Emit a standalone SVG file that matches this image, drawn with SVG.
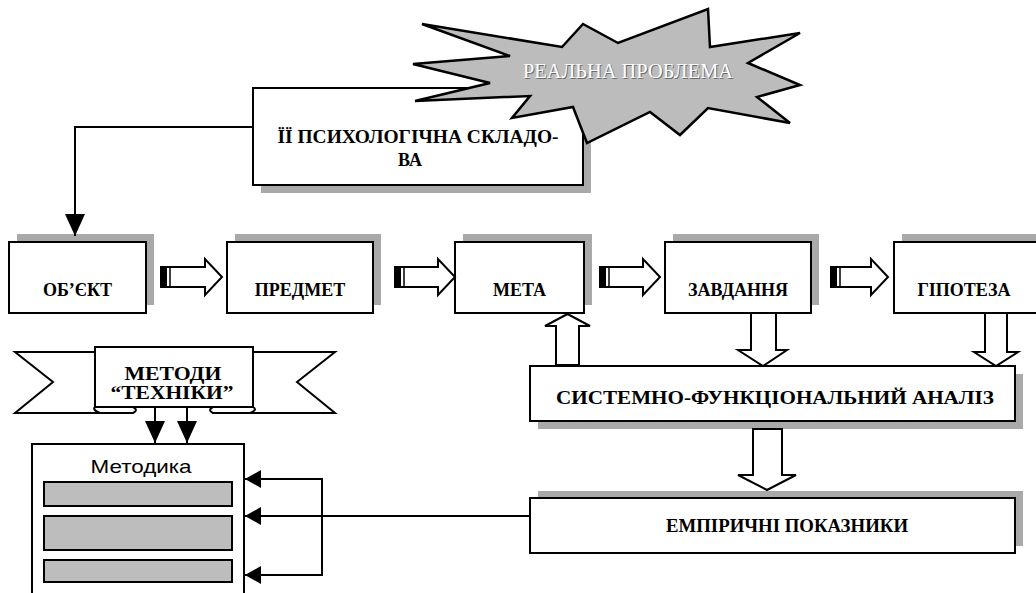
<svg xmlns="http://www.w3.org/2000/svg" width="1036" height="593" viewBox="0 0 1036 593">
<style>
.box{fill:#fff;stroke:#000;stroke-width:2}
.sh{fill:#a9a9a9}
.b{font-family:"Liberation Serif","Times New Roman",serif;font-weight:bold;font-size:18px;text-anchor:middle;fill:#000}
.blk{fill:#fff;stroke:#000;stroke-width:2;stroke-linejoin:miter}
.ln{fill:none;stroke:#000;stroke-width:2}
.bar{fill:#bdbdbd;stroke:#000;stroke-width:2}
.rp{font-family:"Liberation Serif","Times New Roman",serif;font-size:20px;text-anchor:middle}
</style>
<defs>
<marker id="tri" viewBox="0 0 22 20" refX="22" refY="10" markerWidth="22" markerHeight="20" markerUnits="userSpaceOnUse" orient="auto">
<path d="M0,0 L22,10 L0,20 Z" fill="#000"/>
</marker>
<marker id="tri2" viewBox="0 0 16 18" refX="16" refY="9" markerWidth="16" markerHeight="18" markerUnits="userSpaceOnUse" orient="auto">
<path d="M0,0 L16,9 L0,18 Z" fill="#000"/>
</marker>
</defs>

<g id="psych">
<rect class="sh" x="261" y="96" width="330" height="97"/>
<rect class="box" x="253" y="88" width="330" height="97"/>
<text class="b" x="418" y="143" textLength="281" lengthAdjust="spacingAndGlyphs">ЇЇ  ПСИХОЛОГІЧНА СКЛАДО-</text>
<text class="b" x="410" y="166">ВА</text>
</g>

<g id="problem">
<polygon points="422,24 562,47 583,24 618,43 708,9 710,47 800,33 748,63 800,85 757,97 790,123 708,108 680,135 650,112 587,143 573,107 512,118 530,96 415,101 490,83 413,64 510,56" fill="#bcbcbc" stroke="#000" stroke-width="2.5" stroke-linejoin="miter"/>
<text class="rp" x="629" y="79" textLength="210" lengthAdjust="spacingAndGlyphs" fill="#6a6a6a">РЕАЛЬНА ПРОБЛЕМА</text>
<text class="rp" x="628" y="78" textLength="210" lengthAdjust="spacingAndGlyphs" fill="#fff">РЕАЛЬНА ПРОБЛЕМА</text>
</g>

<g id="obiekt">
<rect class="sh" x="17" y="234" width="137" height="71"/>
<rect class="box" x="9" y="242" width="137" height="71"/>
<text class="b" x="77.5" y="296">ОБ’ЄКТ</text>
</g>
<g id="predmet">
<rect class="sh" x="235" y="234" width="146" height="71"/>
<rect class="box" x="227" y="242" width="146" height="71"/>
<text class="b" x="300" y="296">ПРЕДМЕТ</text>
</g>
<g id="meta">
<rect class="sh" x="463" y="234" width="129" height="71"/>
<rect class="box" x="455" y="242" width="129" height="71"/>
<text class="b" x="519.5" y="296">МЕТА</text>
</g>
<g id="zavdannia">
<rect class="sh" x="673" y="234" width="146" height="71"/>
<rect class="box" x="665" y="242" width="146" height="71"/>
<text class="b" x="738" y="296">ЗАВДАННЯ</text>
</g>
<g id="hipoteza">
<rect class="sh" x="902" y="234" width="145" height="71"/>
<rect class="box" x="894" y="242" width="145" height="71"/>
<text class="b" x="964" y="296">ГІПОТЕЗА</text>
</g>

<g id="sfa">
<rect class="sh" x="538" y="374" width="485" height="55"/>
<rect class="box" x="530" y="366" width="485" height="55"/>
<text class="b" x="775" y="404" textLength="438" lengthAdjust="spacingAndGlyphs">СИСТЕМНО-ФУНКЦІОНАЛЬНИЙ АНАЛІЗ</text>
</g>

<g id="empirychni">
<rect class="sh" x="538" y="491" width="485" height="55"/>
<rect class="box" x="530" y="498" width="485" height="55"/>
<text class="b" x="787" y="532" textLength="242" lengthAdjust="spacingAndGlyphs">ЕМПІРИЧНІ ПОКАЗНИКИ</text>
</g>

<g id="metody">
<polygon points="15,352 100,352 100,413 15,413 53,382" fill="#fff" stroke="#000" stroke-width="2"/>
<polygon points="335,352 250,352 250,413 335,413 297,382" fill="#fff" stroke="#000" stroke-width="2"/>
<path d="M95,407 H133 Q139,410 133,413 H100 Q92,410 95,407 Z" fill="#fff" stroke="#000" stroke-width="2"/>
<path d="M253,407 H213 Q207,410 213,413 H250 Q258,410 253,407 Z" fill="#fff" stroke="#000" stroke-width="2"/>
<rect class="box" x="95" y="347" width="158" height="60"/>
<text class="b" x="173" y="380" font-size="17" textLength="97" lengthAdjust="spacingAndGlyphs">МЕТОДИ</text>
<text class="b" x="172" y="399" font-size="17" textLength="123" lengthAdjust="spacingAndGlyphs">“ТЕХНІКИ”</text>
</g>

<g id="metodyka">
<rect class="box" x="32" y="444" width="212" height="170"/>
<text x="141" y="473" text-anchor="middle" font-family="Liberation Sans, Arial, sans-serif" font-size="19" textLength="101" lengthAdjust="spacingAndGlyphs">Методика</text>
<rect class="bar" x="44" y="482" width="188" height="24"/>
<rect class="bar" x="44" y="516" width="188" height="34"/>
<rect class="bar" x="44" y="560" width="188" height="22"/>
</g>

<g id="connectors">
<polyline class="ln" points="253,127 75,127 75,236" marker-end="url(#tri)"/>
<line class="ln" x1="155" y1="407" x2="155" y2="443" marker-end="url(#tri)"/>
<line class="ln" x1="187" y1="407" x2="187" y2="443" marker-end="url(#tri)"/>
<line class="ln" x1="530" y1="516" x2="322" y2="516"/>
<line class="ln" x1="322" y1="478" x2="322" y2="576"/>
<line class="ln" x1="322" y1="479" x2="245" y2="479" marker-end="url(#tri2)"/>
<line class="ln" x1="322" y1="516" x2="245" y2="516" marker-end="url(#tri2)"/>
<line class="ln" x1="322" y1="575" x2="245" y2="575" marker-end="url(#tri2)"/>

<path class="blk" d="M161,267 H205 V259 L222,277 L205,295 V287 H161 Z"/>
<rect x="161" y="267" width="6" height="20" fill="#000"/>
<line x1="170" y1="267" x2="170" y2="287" stroke="#000" stroke-width="1.5"/>

<path class="blk" d="M395,267 H438 V259 L455,277 L438,295 V287 H395 Z"/>
<rect x="395" y="267" width="6" height="20" fill="#000"/>
<line x1="404" y1="267" x2="404" y2="287" stroke="#000" stroke-width="1.5"/>

<path class="blk" d="M600,267 H643 V259 L660,277 L643,295 V287 H600 Z"/>
<rect x="600" y="267" width="6" height="20" fill="#000"/>
<line x1="609" y1="267" x2="609" y2="287" stroke="#000" stroke-width="1.5"/>

<path class="blk" d="M831,267 H871 V259 L888,277 L871,295 V287 H831 Z"/>
<rect x="831" y="267" width="6" height="20" fill="#000"/>
<line x1="840" y1="267" x2="840" y2="287" stroke="#000" stroke-width="1.5"/>

<path class="blk" d="M556,365 V326 H545 L567.5,314 L590,326 H579 V365 Z"/>
<path class="blk" d="M751,313 V350 H738 L763,366 L787,350 H776 V313 Z"/>
<path class="blk" d="M985,313 V352 H974 L996,366 L1018,352 H1007 V313 Z"/>
<path class="blk" d="M753,429 V475 H738 L767,490 L796,475 H782 V429 Z"/>
</g>
</svg>
